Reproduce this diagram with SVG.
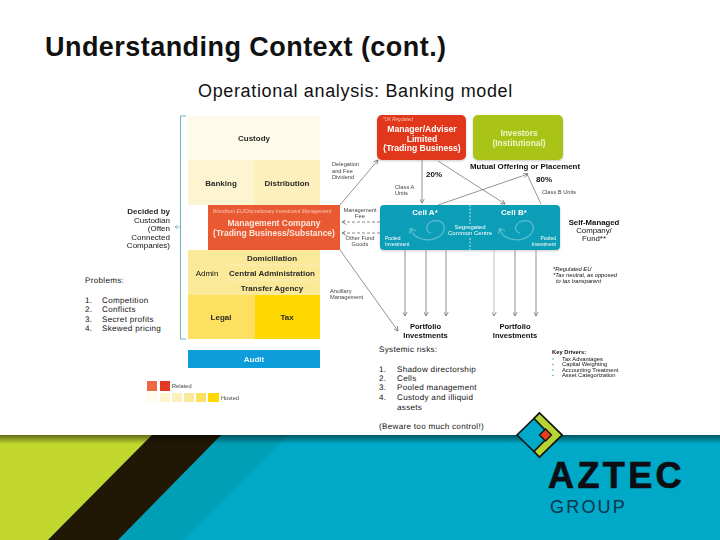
<svg xmlns="http://www.w3.org/2000/svg" width="720" height="540" viewBox="0 0 720 540">
<style>
text{font-family:"Liberation Sans",Arial,sans-serif;fill:#111}
.b{font-weight:bold}
.m{text-anchor:middle}
.e{text-anchor:end}
.n{font-size:8px;font-weight:bold;fill:#2a2a2a}
.w{fill:#fff}
.s{font-size:5.700px;fill:#444}
.l{font-size:8.100px;letter-spacing:.3px;text-rendering:geometricPrecision}
.c{stroke:#666;stroke-width:.7;fill:none;marker-end:url(#a)}
.d{stroke:#555;stroke-width:.7;fill:none;stroke-dasharray:3 2;marker-end:url(#a)}
.p{stroke:#666;stroke-width:.7;fill:none}
.k{stroke:#0f1113;stroke-width:1.6}
.sw{fill:none;stroke:#58bccf;stroke-width:1.300}
</style>
<defs>
<marker id="a" markerWidth="5" markerHeight="5" refX="4.5" refY="2.5" orient="auto" markerUnits="userSpaceOnUse"><path d="M0 0L4.5 2.500L0 5" fill="none" stroke="#666" stroke-width=".7"/></marker>
<filter id="soft" x="-5%" y="-5%" width="110%" height="110%"><feGaussianBlur stdDeviation=".35"/></filter>
<filter id="sh" x="-5%" y="-5%" width="110%" height="115%"><feDropShadow dx="0" dy="1" stdDeviation="1" flood-color="#999" flood-opacity=".5"/></filter>
<linearGradient id="top" x1="0" y1="0" x2="0" y2="1"><stop offset="0" stop-color="#000" stop-opacity=".5"/><stop offset="1" stop-color="#000" stop-opacity="0"/></linearGradient>
</defs>
<rect width="720" height="540" fill="#fff"/>

<text id="title" class="b" x="45" y="56" font-size="27" letter-spacing=".45">Understanding Context (cont.)</text>
<text id="subtitle" x="198" y="97" font-size="18" letter-spacing=".65">Operational analysis: Banking model</text>

<g id="diagram" filter="url(#soft)">
<g id="connectors">
<path d="M186 116H180.500V339H186" stroke="#6fb1bd" stroke-width="1" fill="none"/>
<path d="M180 227H175M177.500 225L175 227L177.500 229" stroke="#6fb1bd" stroke-width=".8" fill="none"/>
<path class="c" d="M340 205L378 160"/>
<path class="c" d="M422 160V203"/>
<path class="c" d="M438 161L505 204"/>
<path class="c" d="M438 205L528 174"/>
<path class="p" d="M541 204L527 174"/>
<path class="d" d="M380 222H342"/>
<path class="d" d="M380 233H342"/>
<path class="c" d="M340 250L398 331"/>
<path class="c" d="M405 250V316"/>
<path class="c" d="M426 250V316"/>
<path class="c" d="M446 250V316"/>
<path class="c" style="stroke:#aaa" d="M494 250V316"/>
<path class="c" d="M515 250V316"/>
<path class="c" d="M536 250V316"/>
</g>

<g id="custody"><rect x="188" y="116" width="132" height="44" fill="#fffbea"/><text class="n m" x="254" y="141">Custody</text></g>
<g id="banking"><rect x="188" y="160" width="66" height="45" fill="#fdf5d2"/><text class="n m" x="221" y="186">Banking</text></g>
<g id="distribution"><rect x="254" y="160" width="66" height="45" fill="#fdf0bc"/><text class="n m" x="287" y="186">Distribution</text></g>
<g id="administration"><rect x="188" y="250" width="132" height="45" fill="#fbe99a"/>
<path d="M226 265H318M226 280H318" stroke="#fdf3c6" stroke-width=".7"/>
<text class="n m" x="272" y="261">Domiciliation</text>
<text class="m" x="207" y="276" font-size="8" fill="#2a2a2a">Admin</text>
<text class="n m" x="272" y="276">Central Administration</text>
<text class="n m" x="272" y="291">Transfer Agency</text></g>
<g id="legal"><rect x="188" y="295" width="67" height="44" fill="#fde05e"/><text class="n m" x="221" y="320">Legal</text></g>
<g id="tax"><rect x="255" y="295" width="65" height="44" fill="#fed800"/><text class="n m" x="287" y="320">Tax</text></g>
<g id="audit"><rect x="188" y="350" width="132" height="18" fill="#0d9ddb"/><text class="n m w" x="254" y="362" style="fill:#e8f6fc">Audit</text></g>
<g id="management-company"><rect x="208" y="205" width="132" height="45" fill="#ea5a32"/>
<text class="m" x="272" y="213" font-size="5.050" font-style="italic" style="fill:#f9c7b3">Woodison EU/Discretionary Investment Management</text>
<text class="b m w" x="274" y="226" font-size="8.500" style="fill:#fbe6dc">Management Company</text>
<text class="b m w" x="274" y="236" font-size="8.500" style="fill:#fbe6dc">(Trading Business/Substance)</text></g>

<g id="decided"><text class="n e" x="170" y="214">Decided by</text><text class="e" x="170" y="222.500" font-size="8" fill="#2a2a2a">Custodian</text><text class="e" x="170" y="231" font-size="8" fill="#2a2a2a">(Often</text><text class="e" x="170" y="239.500" font-size="8" fill="#2a2a2a">Connected</text><text class="e" x="170" y="248" font-size="8" fill="#2a2a2a">Companies)</text></g>

<g id="manager"><rect x="377" y="115" width="89" height="45" rx="5" fill="#e1381c" filter="url(#sh)"/>
<text x="383" y="121" font-size="4.500" font-style="italic" style="fill:#f7c3b0">*UK Regulated</text>
<text class="b m w" x="422" y="132" font-size="8.600">Manager/Adviser</text>
<text class="b m w" x="422" y="141.500" font-size="8.600">Limited</text>
<text class="b m w" x="422" y="151" font-size="8.600">(Trading Business)</text></g>
<g id="investors"><rect x="473" y="115" width="90" height="45" rx="5" fill="#a9c415" filter="url(#sh)"/>
<text class="b m w" x="519" y="136" font-size="8.400" style="fill:#eef5c8">Investors</text>
<text class="b m w" x="519" y="146" font-size="8.400" style="fill:#eef5c8">(Institutional)</text></g>
<g id="cells"><rect x="380" y="205" width="180" height="45" rx="4" fill="#0e9eb7" filter="url(#sh)"/>
<path d="M470 205V224M470 238V250" stroke="#e8f8fb" stroke-width=".8" stroke-dasharray="2 1.500"/>
<text class="b m w" x="425" y="215" font-size="8">Cell A*</text>
<text class="b m w" x="514" y="215" font-size="8">Cell B*</text>
<text class="m w" x="470" y="229" font-size="6">Segregated</text>
<text class="m w" x="470" y="235" font-size="6">Common Centre</text>
<text x="385" y="240" font-size="5" class="w">Pooled</text><text x="385" y="246" font-size="5" class="w">Investment</text>
<text x="556" y="240" font-size="5" class="w e">Pooled</text><text x="556" y="246" font-size="5" class="w e">Investment</text>
<path class="sw" d="M410.500 228C413 240 430 243 440 236C448 229 444 219 433 221C426 223 424 231 431 233M410.500 228L409.500 234M410.500 228L416 231"/>
<path class="sw" d="M499.500 228C502 240 519 243 529 236C537 229 533 219 522 221C515 223 513 231 520 233M499.500 228L498.500 234M499.500 228L505 231"/></g>

<text class="s" x="332" y="166">Delegation</text><text class="s" x="332" y="173">and Fee</text><text class="s" x="332" y="179">Dividend</text>
<text class="s m" x="360" y="212">Management</text><text class="s m" x="360" y="218">Fee</text>
<text class="s m" x="360" y="240">Other Fund</text><text class="s m" x="360" y="246">Goods</text>
<text class="s" x="330" y="293">Ancillary</text><text class="s" x="330" y="299">Management</text>
<text class="s" x="395" y="189">Class A</text><text class="s" x="395" y="195">Units</text>
<text class="s" x="542" y="194">Class B Units</text>
<text class="b" x="426" y="177" font-size="8" fill="#2a2a2a">20%</text>
<text class="b" x="536" y="182" font-size="8" fill="#2a2a2a">80%</text>
<text class="b" x="470" y="169" font-size="7.900" fill="#2a2a2a">Mutual Offering or Placement</text>
<text class="b m" x="594" y="225" font-size="7.800" fill="#2a2a2a">Self-Managed</text>
<text class="m" x="594" y="233" font-size="7.800" fill="#2a2a2a">Company/</text>
<text class="m" x="594" y="241" font-size="7.800" fill="#2a2a2a">Fund**</text>
<text x="553" y="271" font-size="5.800" font-style="italic" fill="#444">*Regulated EU</text>
<text x="553" y="277" font-size="5.800" font-style="italic" fill="#444">*Tax neutral, as opposed</text>
<text x="556" y="283" font-size="5.800" font-style="italic" fill="#444">to tax transparent</text>
<text class="b m" x="425.500" y="329" font-size="7.600" fill="#2a2a2a">Portfolio</text>
<text class="b m" x="425.500" y="338" font-size="7.600" fill="#2a2a2a">Investments</text>
<text class="b m" x="515" y="329" font-size="7.600" fill="#2a2a2a">Portfolio</text>
<text class="b m" x="515" y="338" font-size="7.600" fill="#2a2a2a">Investments</text>

<g id="legend">
<rect x="147" y="381" width="10" height="10" fill="#ec6a43"/><rect x="160" y="381" width="10" height="10" fill="#e03a20"/>
<rect x="147" y="393" width="10" height="9" fill="#fffbea"/><rect x="160" y="393" width="10" height="9" fill="#fdf5d2"/><rect x="172" y="393" width="10" height="9" fill="#fdf0bc"/><rect x="184" y="393" width="10" height="9" fill="#fbe99a"/><rect x="196" y="393" width="10" height="9" fill="#fde05e"/><rect x="208" y="393" width="11" height="9" fill="#fed800"/>
<text class="s" x="172" y="388">Related</text><text class="s" x="221" y="400">Hosted</text></g>

<g id="key-drivers"><text x="552" y="354" font-size="5.800" font-weight="bold" fill="#333">Key Drivers:</text>
<g font-size="5.800" fill="#555"><text x="562" y="361">Tax Advantages</text><text x="562" y="366">Capital Weighting</text><text x="562" y="371.500">Accounting Treatment</text><text x="562" y="377">Asset Categorization</text></g>
<g fill="#0e9eb7"><circle cx="553" cy="359" r=".7"/><circle cx="553" cy="364.500" r=".7"/><circle cx="553" cy="370" r=".7"/><circle cx="553" cy="375.500" r=".7"/></g></g>
</g>

<g id="problems">
<text class="l" x="85" y="283">Problems:</text>
<text class="l" x="85" y="303">1.</text><text class="l" x="102" y="303">Competition</text>
<text class="l" x="85" y="312">2.</text><text class="l" x="102" y="312">Conflicts</text>
<text class="l" x="85" y="322">3.</text><text class="l" x="102" y="322">Secret profits</text>
<text class="l" x="85" y="331">4.</text><text class="l" x="102" y="331">Skewed pricing</text>
</g>
<g id="risks">
<text class="l" x="379" y="352">Systemic risks:</text>
<text class="l" x="379" y="372">1.</text><text class="l" x="397" y="372">Shadow directorship</text>
<text class="l" x="379" y="381">2.</text><text class="l" x="397" y="381">Cells</text>
<text class="l" x="379" y="390">3.</text><text class="l" x="397" y="390">Pooled management</text>
<text class="l" x="379" y="400">4.</text><text class="l" x="397" y="400">Custody and illiquid</text>
<text class="l" x="397" y="410">assets</text>
<text class="l" x="379" y="429">(Beware too much control!)</text>
</g>

<g id="banner">
<rect y="435" width="720" height="105" fill="#00a9c7"/>
<polygon points="221,435 288,435 183,540 118,540" fill="#019fb6"/>
<polygon points="0,435 152,435 48,540 0,540" fill="#c1d72e"/>
<polygon points="152,435 221,435 118,540 48,540" fill="#211705"/>
<rect y="435" width="720" height="9" fill="url(#top)"/>
</g>
<g id="logo">
<polygon points="539.500,413 562,435 539.500,457 517,435" fill="#00a9c7" class="k"/>
<polygon points="539.500,413 562,435 539.500,457 534,451.500 550,435 534,418.500" fill="#b6d433" class="k"/>
<polygon points="545.500,429 551.500,435 545.500,441 539.500,435" fill="#e8401f" stroke="#0f1113" stroke-width="1.300"/>
<text x="548" y="488" font-size="36" font-weight="bold" letter-spacing="3.400" stroke="#0c0e14" stroke-width=".7" style="fill:#0c0e14">AZTEC</text>
<text x="550" y="513" font-size="18" letter-spacing="2.200" style="fill:#0b3550">GROUP</text>
</g>
</svg>
